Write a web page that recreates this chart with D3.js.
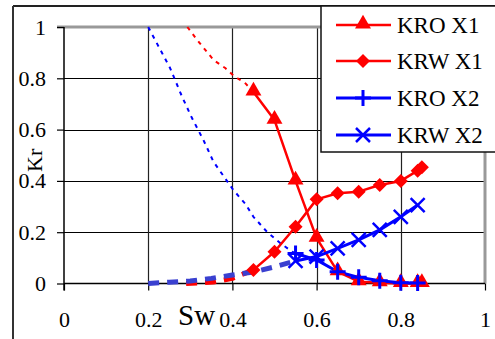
<!DOCTYPE html>
<html><head><meta charset="utf-8">
<script src="https://cdn.jsdelivr.net/npm/d3@7"></script>
<style>html,body{margin:0;padding:0;background:#fff;}svg{display:block;}</style>
</head><body>
<svg id="c" width="495" height="339"></svg>
<script>
// ---- data ----
const xTicks = [0, 0.2, 0.4, 0.6, 0.8, 1];
const yTicks = [0, 0.2, 0.4, 0.6, 0.8, 1];
const xTickLabels = ["0", "0.2", "0.4", "0.6", "0.8", "1"];
const yTickLabels = ["0", "0.2", "0.4", "0.6", "0.8", "1"];
const seriesNames = ["KRO X1", "KRW X1", "KRO X2", "KRW X2"];
const sw1 = [0.45, 0.5, 0.55, 0.6, 0.65, 0.7, 0.75, 0.8, 0.84, 0.85];
const kro1 = [0.747, 0.637, 0.40, 0.177, 0.046, 0.007, 0.003, 0.0, 0.0, 0.0];
const krw1 = [0.053, 0.124, 0.221, 0.328, 0.352, 0.358, 0.384, 0.40, 0.44, 0.453];
const sw2 = [0.55, 0.6, 0.65, 0.7, 0.75, 0.8, 0.84];
const kro2 = [0.117, 0.092, 0.046, 0.024, 0.011, 0.003, 0.002];
const krw2 = [0.088, 0.105, 0.137, 0.17, 0.209, 0.26, 0.306];
// model (extrapolated) curves
const kroModel1Sw = [0.293, 0.316, 0.336, 0.356, 0.383, 0.403, 0.431, 0.45];
const kroModel1 = [1.0, 0.95, 0.91, 0.87, 0.84, 0.81, 0.78, 0.747];
const kroModel2Sw = [0.2, 0.252, 0.28, 0.304, 0.331, 0.355, 0.402, 0.431, 0.45, 0.483, 0.514, 0.542, 0.55];
const kroModel2 = [1.0, 0.84, 0.73, 0.645, 0.56, 0.475, 0.365, 0.31, 0.26, 0.2, 0.157, 0.124, 0.117];
const krwModel1Sw = [0.29, 0.355, 0.40, 0.45];
const krwModel1 = [0.0, 0.006, 0.02, 0.053];
const krwModel2Sw = [0.2, 0.25, 0.3, 0.35, 0.4, 0.45, 0.5, 0.55];
const krwModel2 = [0.0, 0.005, 0.01, 0.02, 0.033, 0.045, 0.065, 0.088];

// ---- drawing ----
const svg = d3.select("#c");
const FONT = "'Liberation Serif','Times New Roman',serif";
const x = d3.scaleLinear().domain([0, 1]).range([64, 485]);
const y = d3.scaleLinear().domain([0, 1]).range([283.5, 27]);
const RED = "#ff0000", BLUE = "#0000ff", DBLUE = "#3a40d0";

// outer frame
svg.append("line").attr("x1", 13).attr("x2", 495).attr("y1", 6).attr("y2", 6).attr("stroke", "#222").attr("stroke-width", 2);
svg.append("line").attr("x1", 13).attr("x2", 13).attr("y1", 6).attr("y2", 339).attr("stroke", "#333").attr("stroke-width", 2);

// gridlines
const g = svg.append("g");
g.selectAll(".hg").data(yTicks.filter(d => d > 0 && d < 1)).join("line")
  .attr("x1", x(0)).attr("x2", x(1)).attr("y1", d => Math.round(y(d)) + 0.5).attr("y2", d => Math.round(y(d)) + 0.5)
  .attr("stroke", "#000").attr("stroke-width", 1.2);
g.selectAll(".vg").data(xTicks.filter(d => d > 0 && d < 1)).join("line")
  .attr("y1", y(0)).attr("y2", y(1)).attr("x1", d => Math.round(x(d)) + 0.5).attr("x2", d => Math.round(x(d)) + 0.5)
  .attr("stroke", "#222").attr("stroke-width", 1.2);
// plot border top/right (gray)
svg.append("line").attr("x1", 57).attr("x2", x(1) + 1.5).attr("y1", y(1)).attr("y2", y(1)).attr("stroke", "#999").attr("stroke-width", 3);
svg.append("line").attr("x1", x(1)).attr("x2", x(1)).attr("y1", y(1)).attr("y2", y(0)).attr("stroke", "#999").attr("stroke-width", 3);

// axes
const xAxis = d3.axisBottom(x).tickValues(xTicks).tickSize(7).tickFormat((d, i) => xTickLabels[i]);
const xa = svg.append("g").attr("transform", `translate(0,${y(0)})`).call(xAxis);
xa.select(".domain").attr("stroke", "#000").attr("stroke-width", 1.5).attr("d", `M${x(0)},0H${x(1)}`);
xa.selectAll(".tick line").attr("stroke", "#000").attr("stroke-width", 1.2);
xa.selectAll(".tick text").attr("font-family", FONT).attr("font-size", 22).attr("fill", "#000").attr("y", 0).attr("dy", 0)
  .attr("transform", "translate(0,43.5)");
const yAxis = d3.axisLeft(y).tickValues(yTicks).tickSize(7).tickFormat((d, i) => yTickLabels[i]);
const ya = svg.append("g").attr("transform", `translate(${x(0)},0)`).call(yAxis);
ya.select(".domain").attr("stroke", "#000").attr("stroke-width", 1.5).attr("d", `M0,${y(1)}V${y(0) + 7}`);
ya.selectAll(".tick line").attr("stroke", "#000").attr("stroke-width", 1.2);
ya.selectAll(".tick text").attr("font-family", FONT).attr("font-size", 22).attr("fill", "#000")
  .attr("x", -18).attr("dy", "0.32em");

// axis titles
svg.append("text").attr("x", 178).attr("y", 325).attr("font-family", FONT).attr("font-size", 29).text("Sw");
svg.append("text").attr("transform", "translate(42,172) rotate(-90)").attr("font-family", FONT).attr("font-size", 22).text("Kr");

// lines
const line = d3.line().x(d => x(d[0])).y(d => y(d[1]));
const zip = (a, b) => a.map((v, i) => [v, b[i]]);
function path(data, color, width, dash) {
  svg.append("path").datum(data).attr("d", line).attr("fill", "none").attr("stroke", color)
    .attr("stroke-width", width).attr("stroke-dasharray", dash || null).attr("stroke-linejoin", "round");
}
path(zip(kroModel1Sw, kroModel1), RED, 2, "4,5");
path(zip(kroModel2Sw, kroModel2), BLUE, 2, "4,5");
path(zip(krwModel1Sw, krwModel1), RED, 5, "11,8");
path(zip(krwModel2Sw, krwModel2), DBLUE, 5, "11,8");
path(zip(sw1, kro1), RED, 2.5);
path(zip(sw1, krw1), RED, 2.5);
path(zip(sw2, krw2), BLUE, 3);
path(zip(sw2, kro2), BLUE, 3);

// markers
function marker(sel, type, color) {
  if (type === "tri") sel.append("path").attr("d", d3.symbol(d3.symbolTriangle, 110)()).attr("fill", color).attr("transform", "translate(0,-1)");
  else if (type === "dia") sel.append("path").attr("d", "M0,-7L7,0L0,7L-7,0Z").attr("fill", color);
  else if (type === "plus") sel.append("path").attr("d", "M-8,0H8M0,-8V8").attr("stroke", color).attr("stroke-width", 3);
  else if (type === "x") sel.append("path").attr("d", "M-7,-7L7,7M-7,7L7,-7").attr("stroke", color).attr("stroke-width", 2.5);
}
function markers(xs, ys, type, color) {
  svg.append("g").selectAll("g").data(zip(xs, ys)).join("g")
    .attr("transform", d => `translate(${x(d[0])},${y(d[1])})`).each(function () { marker(d3.select(this), type, color); });
}
markers(sw1, krw1, "dia", RED);
markers(sw1, kro1, "tri", RED);
markers(sw2, krw2, "x", BLUE);
markers(sw2, kro2, "plus", BLUE);

// legend
const lg = svg.append("g");
lg.append("rect").attr("x", 321).attr("y", 6).attr("width", 200).attr("height", 146).attr("fill", "#fff").attr("stroke", "#111").attr("stroke-width", 1.5);
const legTypes = ["tri", "dia", "plus", "x"];
const legColors = [RED, RED, BLUE, BLUE];
const legY = [25, 61, 98, 135];
seriesNames.forEach((name, i) => {
  lg.append("line").attr("x1", 336).attr("x2", 391).attr("y1", legY[i]).attr("y2", legY[i]).attr("stroke", legColors[i]).attr("stroke-width", i < 2 ? 2.5 : 3);
  const m = lg.append("g").attr("transform", `translate(363,${legY[i]})`);
  marker(m, legTypes[i], legColors[i]);
  lg.append("text").attr("x", 397).attr("y", legY[i] + 8).attr("font-family", FONT).attr("font-size", 23).text(name);
});
</script>
</body></html>
